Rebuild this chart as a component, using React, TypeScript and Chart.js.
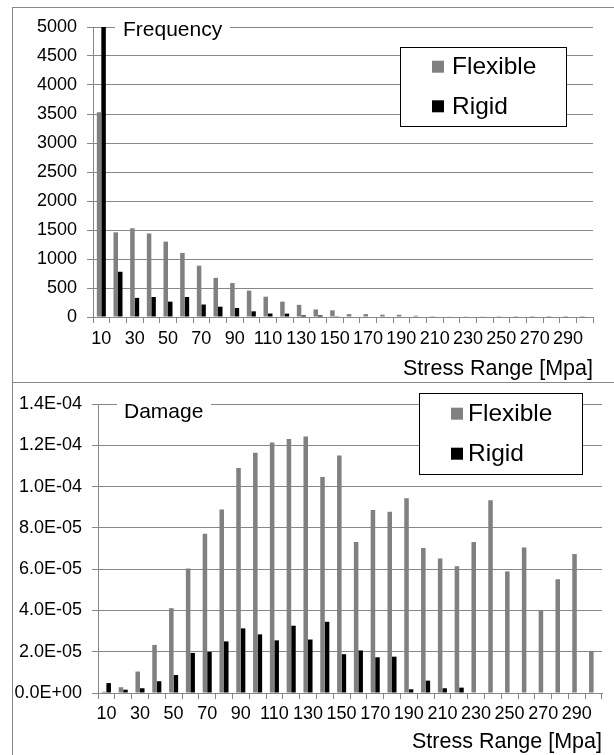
import React, { useEffect, useRef } from 'react';
import { Chart, registerables } from 'chart.js';

Chart.register(...registerables);

// ---------- data ----------
const categories = ['10', '20', '30', '40', '50', '60', '70', '80', '90', '100', '110', '120', '130', '140', '150', '160', '170', '180', '190', '200', '210', '220', '230', '240', '250', '260', '270', '280', '290', '300'];

const seriesNames = ['Flexible', 'Rigid'];

const freqFlexible = [3530, 1460, 1530, 1440, 1300, 1105, 885, 675, 585, 455, 350, 265, 210, 130, 115, 50, 50, 40, 38, 22, 15, 6, 5, 5, 3, 2, 1, 1, 1, 1];
const freqRigid = [5000, 780, 330, 345, 265, 345, 215, 178, 155, 98, 60, 58, 28, 28, 4, 0, 0, 0, 0, 0, 0, 0, 0, 0, 0, 0, 0, 0, 0, 0];

const damageFlexible = [0.6e-6, 2.8e-6, 1.04e-5, 2.33e-5, 4.11e-5, 6.03e-5, 7.71e-5, 8.89e-5, 1.09e-4, 1.164e-4, 1.214e-4, 1.23e-4, 1.243e-4, 1.046e-4, 1.151e-4, 7.31e-5, 8.86e-5, 8.78e-5, 9.44e-5, 7.02e-5, 6.52e-5, 6.14e-5, 7.32e-5, 9.34e-5, 5.89e-5, 7.05e-5, 3.98e-5, 5.51e-5, 6.73e-5, 2.04e-5];
const damageRigid = [4.8e-6, 1.6e-6, 2.3e-6, 5.7e-6, 8.7e-6, 1.94e-5, 1.99e-5, 2.5e-5, 3.13e-5, 2.84e-5, 2.55e-5, 3.26e-5, 2.59e-5, 3.45e-5, 1.88e-5, 2.06e-5, 1.73e-5, 1.76e-5, 1.8e-6, 6.0e-6, 2.3e-6, 2.6e-6, 0, 0, 0, 0, 0, 0, 0, 0];

const freqAxis = { min: 0, max: 5000, step: 500 };
const damageAxis = { min: 0, max: 1.4e-4, step: 2e-5 };

const xTitle = 'Stress Range [Mpa]';

// ---------- styles ----------
const FONT = '"Liberation Sans", Arial, sans-serif';
const GRID = '#878787';
const FLEX_COLOR = '#808080';
const RIGID_COLOR = '#000000';
const TICK_SIZE = 18;

const excelExp = (v: number) => {
  const s = Number(v).toExponential(1);
  const [m, e] = s.split('e');
  const sign = e.startsWith('-') ? '-' : '+';
  const digits = e.replace('-', '').replace('+', '').padStart(2, '0');
  return `${m}E${sign}${digits}`;
};

const overlayPlugin = {
  id: 'overlay',
  afterDraw(chart: any, _args: any, opts: any) {
    const ctx = chart.ctx as CanvasRenderingContext2D;
    ctx.save();
    const t = opts.title;
    ctx.fillStyle = '#ffffff';
    ctx.fillRect(t.rect[0], t.rect[1], t.rect[2], t.rect[3]);
    ctx.fillStyle = '#000000';
    ctx.font = `${t.size}px ${FONT}`;
    ctx.textAlign = 'left';
    ctx.textBaseline = 'alphabetic';
    ctx.fillText(t.text, t.x, t.y);

    const l = opts.legend;
    const [bx, by, bw, bh] = l.box;
    ctx.fillStyle = '#ffffff';
    ctx.fillRect(bx, by, bw, bh);
    ctx.strokeStyle = '#000000';
    ctx.lineWidth = 1;
    ctx.strokeRect(bx + 0.5, by + 0.5, bw, bh);
    ctx.font = `${l.size}px ${FONT}`;
    chart.data.datasets.forEach((ds: any, i: number) => {
      const cy = l.rows[i];
      ctx.fillStyle = ds.backgroundColor;
      ctx.fillRect(l.sqX, cy - l.sq / 2, l.sq, l.sq);
      ctx.fillStyle = '#000000';
      ctx.fillText(ds.label, l.textX, cy + 7.5);
    });
    ctx.restore();
  },
};

function makeConfig(p: any): any {
  return {
    type: 'bar',
    data: {
      labels: categories,
      datasets: [
        { label: seriesNames[0], data: p.flex, backgroundColor: FLEX_COLOR, borderWidth: 0, barPercentage: 1, categoryPercentage: 0.54 },
        { label: seriesNames[1], data: p.rigid, backgroundColor: RIGID_COLOR, borderWidth: 0, barPercentage: 1, categoryPercentage: 0.54 },
      ],
    },
    plugins: [overlayPlugin],
    options: {
      responsive: false,
      animation: false,
      events: [],
      layout: { padding: p.padding },
      plugins: {
        legend: { display: false },
        tooltip: { enabled: false },
        overlay: p.overlay,
      },
      scales: {
        x: {
          afterFit: (s: any) => { s.height = p.xHeight; },
          grid: { display: true, drawOnChartArea: false, drawTicks: true, tickLength: 6, color: GRID, offset: true },
          border: { display: true, color: GRID, width: 1 },
          ticks: {
            autoSkip: false,
            maxRotation: 0,
            minRotation: 0,
            padding: p.xPad,
            color: '#000000',
            font: { family: FONT, size: TICK_SIZE },
            callback: (_v: any, i: number) => (i % 2 === 0 ? categories[i] : ''),
          },
          title: {
            display: true,
            text: xTitle,
            align: 'end',
            color: '#000000',
            font: { family: FONT, size: 21.5 },
            padding: 0,
          },
        },
        y: {
          min: p.axis.min,
          max: p.axis.max,
          afterFit: (s: any) => { s.width = p.yWidth; },
          grid: { color: GRID, tickLength: 6, drawTicks: true },
          border: { display: true, color: GRID, width: 1 },
          ticks: {
            stepSize: p.axis.step,
            padding: 10,
            color: '#000000',
            font: { family: FONT, size: TICK_SIZE },
            callback: p.fmt,
          },
        },
      },
    },
  };
}

export default function App() {
  const topRef = useRef<HTMLCanvasElement>(null);
  const botRef = useRef<HTMLCanvasElement>(null);

  useEffect(() => {
    const c1 = new Chart(topRef.current!, makeConfig({
      flex: freqFlexible,
      rigid: freqRigid,
      axis: freqAxis,
      fmt: (v: any) => String(v),
      padding: { left: 13, right: 21, top: 27, bottom: 0 },
      yWidth: 80,
      xHeight: 65,
      xPad: 5.5,
      overlay: {
        title: { text: 'Frequency', x: 123, y: 36, size: 21, rect: [115, 15, 115, 26] },
        legend: { box: [400, 47, 166, 79], sqX: 432, sq: 12, rows: [66.7, 106.3], textX: 452, size: 24.5 },
      },
    }));
    const c2 = new Chart(botRef.current!, makeConfig({
      flex: damageFlexible,
      rigid: damageRigid,
      axis: damageAxis,
      fmt: (v: any) => excelExp(v),
      padding: { left: 13, right: 12, top: 22, bottom: 0 },
      yWidth: 85,
      xHeight: 62,
      xPad: 4.5,
      overlay: {
        title: { text: 'Damage', x: 124, y: 35.5, size: 21, rect: [117, 12, 94, 30] },
        legend: { box: [419, 11, 163, 81], sqX: 451, sq: 12, rows: [31.7, 71.7], textX: 468, size: 24.5 },
      },
    }));
    return () => {
      c1.destroy();
      c2.destroy();
    };
  }, []);

  return (
    <div style={{ position: 'absolute', left: 0, top: 0, width: 614, height: 755, overflow: 'hidden', background: '#ffffff' }}>
      <canvas ref={topRef} width={614} height={382} style={{ position: 'absolute', left: 0, top: 0, width: 614, height: 382 }} />
      <canvas ref={botRef} width={614} height={373} style={{ position: 'absolute', left: 0, top: 382, width: 614, height: 373 }} />
      <div style={{ position: 'absolute', left: 12, top: 7, width: 700, height: 800, borderLeft: `1px solid ${GRID}`, borderTop: `1px solid ${GRID}`, pointerEvents: 'none' }} />
      <div style={{ position: 'absolute', left: 12, top: 382, width: 700, height: 1, background: GRID, pointerEvents: 'none' }} />
    </div>
  );
}
